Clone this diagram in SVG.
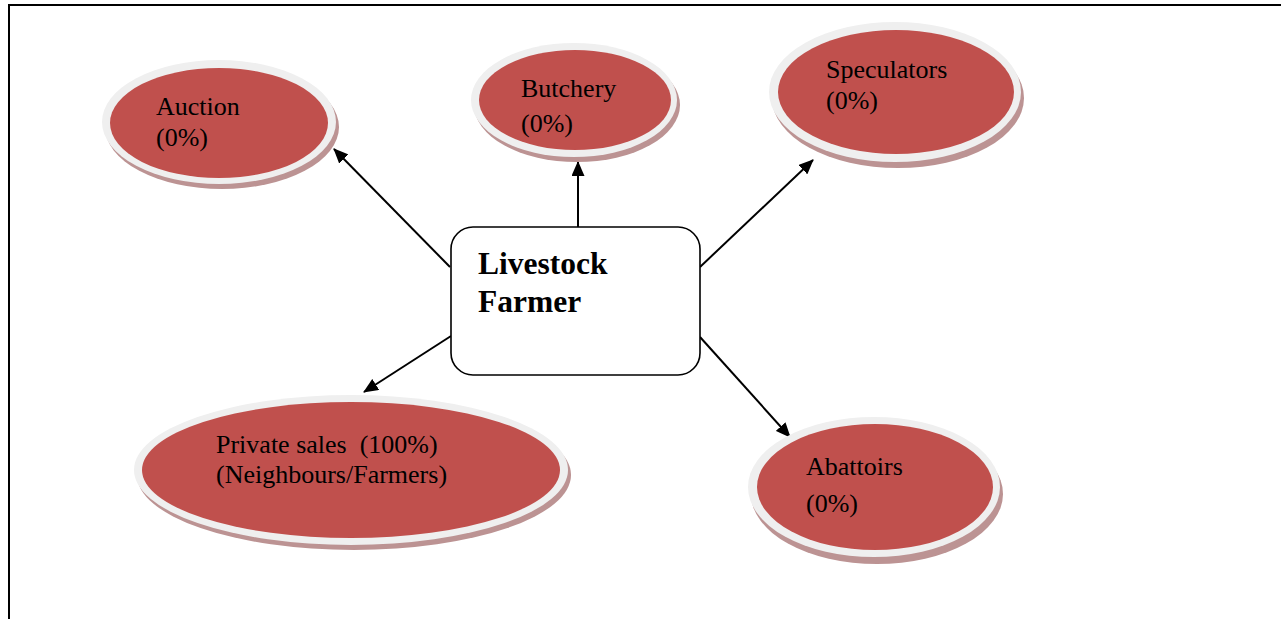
<svg xmlns="http://www.w3.org/2000/svg" width="1281" height="619" viewBox="0 0 1281 619">
  <style>
    .frame { fill: none; stroke: #000; stroke-width: 2; }
    .shadow { fill: #bc9393; }
    .ring { fill: #efefef; }
    .core { fill: #c0504d; }
    .label { font-family: "Liberation Serif", "Times New Roman", serif; font-size: 26px; fill: #000; white-space: pre; }
    .title { font-family: "Liberation Serif", "Times New Roman", serif; font-size: 31.5px; font-weight: bold; fill: #000; }
    .box { fill: #fff; stroke: #000; stroke-width: 1.6; }
    .link { stroke: #000; stroke-width: 2; fill: none; marker-end: url(#head); }
  </style>
  <defs>
    <marker id="head" viewBox="0 0 15 13" refX="14" refY="6.5" markerWidth="15" markerHeight="13" markerUnits="userSpaceOnUse" orient="auto">
      <path d="M0,0 L15,6.5 L0,13 Z" fill="#000"/>
    </marker>
  </defs>

  <rect width="1281" height="619" fill="#fff"/>
  <!-- page frame (right and bottom edges run off the page) -->
  <path class="frame" d="M9,619 V5 H1281"/>

  <g id="connectors">
    <line class="link" x1="450" y1="267" x2="334" y2="149"/>
    <line class="link" x1="578" y1="227" x2="578" y2="162"/>
    <line class="link" x1="700" y1="267" x2="813" y2="160"/>
    <line class="link" x1="451" y1="336" x2="364" y2="392"/>
    <line class="link" x1="700" y1="337" x2="790" y2="437"/>
  </g>

  <g id="auction">
    <ellipse class="shadow" cx="222" cy="127" rx="117" ry="62"/>
    <ellipse class="ring" cx="219" cy="122" rx="117" ry="62"/>
    <ellipse class="core" cx="219" cy="123" rx="109" ry="55"/>
    <text class="label" x="156" y="115">Auction</text>
    <text class="label" x="156" y="146">(0%)</text>
  </g>

  <g id="butchery">
    <ellipse class="shadow" cx="577" cy="105" rx="103" ry="57"/>
    <ellipse class="ring" cx="574" cy="100" rx="103" ry="57"/>
    <ellipse class="core" cx="575" cy="100" rx="96" ry="50"/>
    <text class="label" x="521" y="97">Butchery</text>
    <text class="label" x="521" y="132">(0%)</text>
  </g>

  <g id="speculators">
    <ellipse class="shadow" cx="898" cy="98" rx="126" ry="70"/>
    <ellipse class="ring" cx="895" cy="92" rx="126" ry="70"/>
    <ellipse class="core" cx="896" cy="92" rx="118" ry="62"/>
    <text class="label" x="826" y="78">Speculators</text>
    <text class="label" x="826" y="109">(0%)</text>
  </g>

  <g id="private-sales">
    <ellipse class="shadow" cx="354" cy="475" rx="217" ry="75"/>
    <ellipse class="ring" cx="351" cy="470" rx="217" ry="75"/>
    <ellipse class="core" cx="351" cy="470" rx="209" ry="68"/>
    <text class="label" x="216" y="453" xml:space="preserve">Private sales  (100%)</text>
    <text class="label" x="216" y="483">(Neighbours/Farmers)</text>
  </g>

  <g id="abattoirs">
    <ellipse class="shadow" cx="877" cy="494" rx="126" ry="70"/>
    <ellipse class="ring" cx="874" cy="487" rx="126" ry="70"/>
    <ellipse class="core" cx="875" cy="487" rx="118" ry="63"/>
    <text class="label" x="806" y="475">Abattoirs</text>
    <text class="label" x="806" y="512">(0%)</text>
  </g>

  <g id="livestock-farmer">
    <rect class="box" x="451" y="227" width="249" height="148" rx="22" ry="22"/>
    <text class="title" x="478" y="274">Livestock</text>
    <text class="title" x="478" y="312">Farmer</text>
  </g>
</svg>
